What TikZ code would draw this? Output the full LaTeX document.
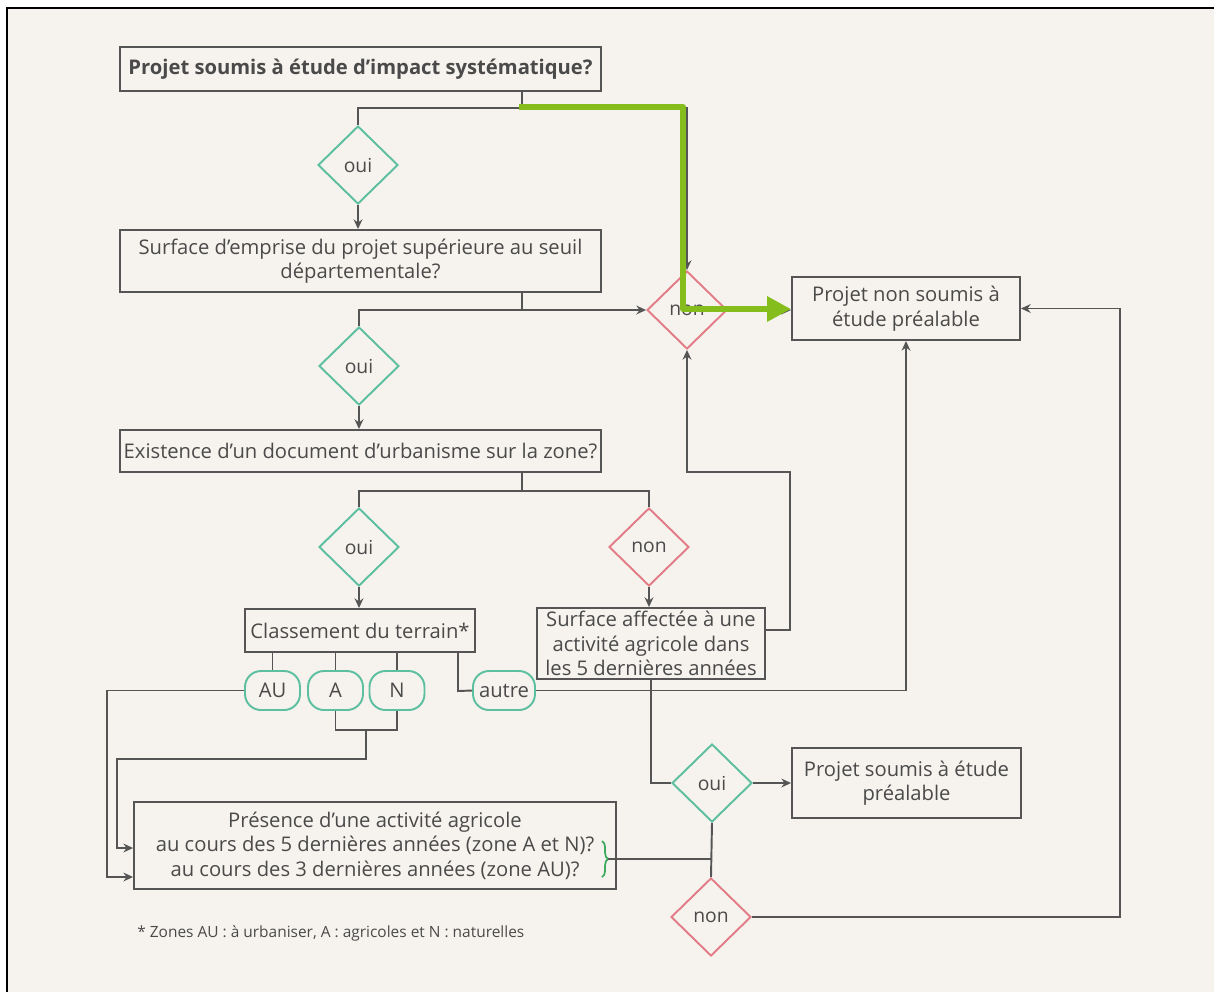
\documentclass[tikz,border=0pt]{standalone}
\usepackage{fontspec}
\setmainfont{Open Sans}
\usetikzlibrary{shapes.geometric,arrows.meta,decorations.pathreplacing}
\definecolor{bg}{HTML}{F6F3EE}
\definecolor{ink}{HTML}{555555}
\definecolor{txt}{HTML}{4A4A4A}
\definecolor{ouic}{HTML}{5CBF9F}
\definecolor{nonc}{HTML}{E27C86}
\definecolor{greenarrow}{HTML}{84BD1C}
\definecolor{bracec}{HTML}{3DAA5E}
\tikzset{
  box/.style={draw=ink, line width=1.1pt, text=txt, align=center, inner sep=0pt,
    font=\fontsize{11.5}{14}\selectfont},
  dia/.style={diamond, line width=1.1pt, inner sep=0pt, minimum width=1.6cm,
    minimum height=1.56cm, text=txt, font=\fontsize{11}{12}\selectfont},
  ouid/.style={dia, draw=ouic},
  nond/.style={dia, draw=nonc},
  pill/.style={draw=ouic, line width=1.1pt, rounded corners=0.32cm, inner sep=0pt,
    minimum height=0.78cm, text=txt, font=\fontsize{11.5}{12}\selectfont},
  conn/.style={draw=ink, line width=1.1pt},
  arr/.style={conn, -{Stealth[length=5.5pt,width=5pt]}},
  garrow/.style={draw=greenarrow, line width=3.4pt, line join=round,
    -{Triangle[length=13.6pt,width=13.6pt]}}
}
\begin{document}
\begin{tikzpicture}[x=0.02cm,y=-0.02cm]
\useasboundingbox (0,0) rectangle (1214,992);
\fill[white] (0,0) rectangle (1214,992);
\fill[bg] (7,8) rectangle (1214,992);
\draw[black, line width=1.2pt] (7,992) -- (7,8) -- (1220,8);

% boxes
\node[box, minimum width=9.62cm, minimum height=0.88cm, font=\fontsize{11.5}{14}\selectfont\bfseries] (q1) at (360.5,69) {Projet soumis à étude d’impact systématique?};
\node[box, minimum width=9.62cm, minimum height=1.24cm] (q2) at (360.5,261) {Surface d’emprise du projet supérieure au seuil\\départementale?};
\node[box, minimum width=9.62cm, minimum height=0.84cm] (q3) at (360.5,451) {Existence d’un document d’urbanisme sur la zone?};
\node[box, minimum width=4.6cm, minimum height=0.86cm] (cl) at (360,630.5) {Classement du terrain*};
\node[box, minimum width=4.56cm, minimum height=1.42cm] (sa) at (651,643.5) {Surface affectée à une\\activité agricole dans\\les 5 dernières années};
\node[box, minimum width=4.56cm, minimum height=1.26cm] (pns) at (906,308.5) {Projet non soumis à\\étude préalable};
\node[box, minimum width=4.58cm, minimum height=1.4cm] (ps) at (906.5,783) {Projet soumis à étude\\préalable};
\node[box, minimum width=9.64cm, minimum height=1.74cm] (pr) at (375,845.5) {Présence d’une activité agricole\\au cours des 5 dernières années (zone A et N)?\\au cours des 3 dernières années (zone AU)?};

% diamonds
\node[ouid] (d1) at (358,165) {oui};
\node[ouid] (d2) at (359,366) {oui};
\node[nond] (n1) at (687,310) {non};
\node[ouid] (d3) at (359,547) {oui};
\node[nond] (n2) at (649,547) {non};
\node[ouid] (d4) at (712,783) {oui};
\node[nond] (n3) at (711,917) {non};

% pills
\node[pill, minimum width=1.1cm] (au) at (272.5,690.5) {AU};
\node[pill, minimum width=1.1cm] (a) at (335.5,690.5) {A};
\node[pill, minimum width=1.1cm] (n) at (397,690.5) {N};
\node[pill, minimum width=1.24cm] (ot) at (504,690.5) {autre};

% footnote
\node[anchor=west, inner sep=0pt, text=txt, font=\fontsize{8.8}{10}\selectfont] (fn) at (137,933) {* Zones AU : à urbaniser, A : agricoles et N : naturelles};

% junction coordinates
\coordinate (j1) at (522,108);
\coordinate (j2) at (522,310);
\coordinate (j3) at (522,491);
\coordinate (c1) at (790,630);
\coordinate (c2) at (687,472);
\coordinate (k1) at (107,877);
\coordinate (k2) at (366,730);
\coordinate (k3) at (117,759);
\coordinate (k4) at (117,848);
\coordinate (k5) at (458,691);
\coordinate (k7) at (1120,917);
\coordinate (bt) at (608,859);

% connectors
\draw[conn] (q1.south -| j1) -- (j1) -| (d1.north);
\draw[arr] (j1) -| (n1.north);
\draw[arr] (d1.south) -- (q2.north -| d1.south);
\draw[conn] (q2.south -| j2) -- (j2) -| (d2.north);
\draw[arr] (j2) -- (n1.west);
\draw[arr] (n1.east) -- (n1.east -| pns.west);
\draw[arr] (d2.south) -- (q3.north -| d2.south);
\draw[conn] (q3.south -| j3) -- (j3) -| (d3.north);
\draw[conn] (j3) -| (n2.north);
\draw[arr] (d3.south) -- (cl.north -| d3.south);
\draw[arr] (n2.south) -- (sa.north -| n2.south);
\draw[arr] (sa.east |- c1) -- (c1) |- (c2) -- (n1.south);
\draw[conn] (sa.south) |- (d4.west);
\draw[arr] (d4.east) -- (ps.west);
\draw[conn] (d4.south) -- (n3.north);
\draw[arr] (n3.east) -- (k7) |- (pns.east);
\draw[conn] (cl.south -| au.north) -- (au.north);
\draw[conn] (cl.south -| a.north) -- (a.north);
\draw[conn] (cl.south -| n.north) -- (n.north);
\draw[conn] (cl.south -| k5) -- (k5) -- (ot.west);
\draw[arr] (ot.east) -- (ot.east -| pns.south) -- (pns.south);
\draw[arr] (au.west) -| (k1) -- (k1 -| pr.west);
\draw[conn] (a.south) -- (a.south |- k2) -- (n.south |- k2) -- (n.south);
\draw[arr] (k2) -- (k2 |- k3) -- (k3) -- (k4) -- (k4 -| pr.west);
\draw[bracec, line width=1pt, decorate, decoration={brace, amplitude=3.5pt}] (602,841) -- (602,877);
\draw[conn] (bt) -- (bt -| d4.south);

% green highlight arrow
\coordinate (g0) at (519,107);
\coordinate (g1) at (683,309);
\draw[garrow] (g0) -| (g1) -- (g1 -| pns.west);
\end{tikzpicture}
\end{document}
